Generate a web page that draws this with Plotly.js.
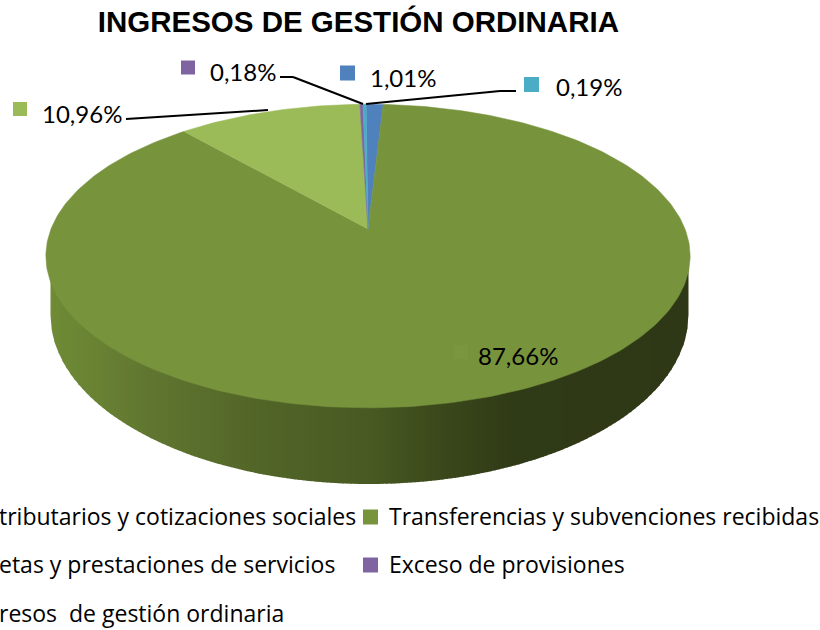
<!DOCTYPE html>
<html><head><meta charset="utf-8">
<script src="https://cdn.plot.ly/plotly-3.0.1.min.js"></script>
<style>html,body{margin:0;padding:0;background:#fff;overflow:hidden}#c{width:820px;height:630px}</style>
</head><body><div id="c"></div>
<script>
const categories = ["tributarios y cotizaciones sociales","Transferencias y subvenciones recibidas","etas y prestaciones de servicios","Exceso de provisiones","resos  de gestión ordinaria"];
const shares = [1.01, 87.66, 10.96, 0.18, 0.19];
const shareLabels = ["1,01%","87,66%","10,96%","0,18%","0,19%"];
const sliceColors = ["#4f81bd","#77933c","#9bbb59","#8064a2","#4bacc6"];
const labelFont = "Lato, Open Sans, sans-serif";
const legendFont = "Open Sans, Lato, sans-serif";

const apex = {x:368, y:229}, A = 317, B = 147, K = 0.178, startDeg = -0.4;
function rim(deg){
  const t = deg*Math.PI/180, u = Math.sin(t), v = Math.cos(t), w = 1+K*v;
  return [apex.x + A*u/w, apex.y - B*v/w];
}
const traces = [];
const wallStops = [[47,[112,140,54]],[150,[96,118,48]],[260,[82,101,40]],[370,[72,90,34]],[450,[57,70,26]],[520,[47,58,22]],[692,[46,56,22]]];
function wallColor(x){
  for(let i=1;i<wallStops.length;i++){
    if(x<=wallStops[i][0]){
      const a=wallStops[i-1],b=wallStops[i],f=(x-a[0])/(b[0]-a[0]);
      const c=a[1].map((q,j)=>Math.round(q+(b[1][j]-q)*f));
      return `rgb(${c})`;
    }
  }
  return `rgb(${wallStops[wallStops.length-1][1]})`;
}
const bot = {cx:369.5, cy:315, rx:319, ry:169};
function botY(x){const d=(x-bot.cx)/bot.rx; return bot.cy+bot.ry*Math.sqrt(Math.max(0,1-d*d));}
for(let x=bot.cx-bot.rx; x<bot.cx+bot.rx; x+=4){
  const x1=Math.min(x+5,bot.cx+bot.rx);
  const xs=[],ys=[];
  xs.push(x,x1);ys.push(250,250);
  for(let q=x1;q>=x;q-=1.25){xs.push(q);ys.push(botY(q));}
  xs.push(x);ys.push(botY(x));
  traces.push({type:"scatter",mode:"lines",x:xs,y:ys,fill:"toself",fillcolor:wallColor(x+2),line:{width:0},hoverinfo:"skip",showlegend:false});
}
let cum = startDeg;
const total = shares.reduce((a,b)=>a+b,0);
shares.forEach((s,i)=>{
  const span = s/total*360, xs=[apex.x], ys=[apex.y], n=Math.max(2,Math.ceil(span));
  for(let k=0;k<=n;k++){const p=rim(cum+span*k/n); xs.push(p[0]); ys.push(p[1]);}
  xs.push(apex.x); ys.push(apex.y);
  traces.push({type:"scatter",mode:"lines",name:categories[i],x:xs,y:ys,fill:"toself",fillcolor:sliceColors[i],line:{width:0.5,color:sliceColors[i]},hoverinfo:"name",showlegend:false});
  cum += span;
});
const keyPos = [[347.5,73],[461,352],[20,109],[188,67.5],[531.5,84.5]];
traces.push({type:"scatter",mode:"markers",x:keyPos.map(p=>p[0]),y:keyPos.map(p=>p[1]),hoverinfo:"skip",showlegend:false,
  marker:{symbol:"square",size:[15,14,14,14,15],opacity:1,line:{width:0},color:["#4f81bd","#7a963e","#9bbb59","#8064a2","#4bacc6"]}});
traces.push({type:"scatter",mode:"markers",x:[370.5,370.5],y:[517,565],hoverinfo:"skip",showlegend:false,
  marker:{symbol:"square",size:15,opacity:1,line:{width:0},color:[sliceColors[1],sliceColors[3]]}});

const labelPos = [[367.5,77],[476,355],[40,113],[208,71],[553.5,86]];
const annotations = shareLabels.map((t,i)=>({xref:"x",yref:"y",x:labelPos[i][0],y:labelPos[i][1],text:t,showarrow:false,xanchor:"left",yanchor:"middle",font:{family:labelFont,size:24,color:"#000"}}));
const legendRows = [[358,516,0,"right"],[387,516,1,"left"],[336.5,564,2,"right"],[387,564,3,"left"],[286,613,4,"right"]];
legendRows.forEach(r=>annotations.push({xref:"x",yref:"y",x:r[0],y:r[1],text:categories[r[2]],showarrow:false,xanchor:r[3],yanchor:"middle",font:{family:legendFont,size:23,color:"#000"}}));

const leader = (x0,y0,x1,y1)=>({type:"line",xref:"x",yref:"y",x0,y0,x1,y1,line:{color:"#000",width:2}});
const layout = {
  width:820,height:630,margin:{l:0,r:0,t:0,b:0},paper_bgcolor:"#fff",plot_bgcolor:"#fff",showlegend:false,
  title:{text:"<b>INGRESOS DE GESTIÓN ORDINARIA</b>",x:0.437,xanchor:"center",y:0.966,yanchor:"middle",font:{family:"Liberation Sans, Arial, sans-serif",size:29.5,color:"#000"}},
  xaxis:{visible:false,range:[0,820],fixedrange:true},
  yaxis:{visible:false,range:[630,0],fixedrange:true},
  shapes:[leader(126,119,268,110),leader(280,77,293,77),leader(293,77,363,104),leader(366,104,500,91),leader(500,91,516,91)],
  annotations
};
Plotly.newPlot("c",traces,layout,{staticPlot:true,displayModeBar:false});
</script></body></html>
